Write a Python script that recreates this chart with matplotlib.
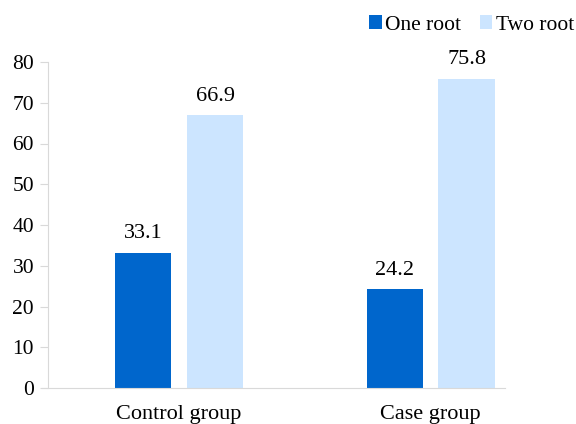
import numpy as np
import matplotlib.pyplot as plt

plt.rcParams['font.family'] = ['Liberation Serif', 'DejaVu Serif']

# Data
groups = ['Control group', 'Case group']
one_root = [33.1, 24.2]
two_root = [66.9, 75.8]

fig = plt.figure(figsize=(5.76, 4.24), dpi=100)
ax = fig.add_axes([48 / 576, 1 - 388 / 424, (505 - 48) / 576, (388 - 62) / 424])

x = np.arange(len(groups))
w = 0.223
off = 0.143
b1 = ax.bar(x - off, one_root, w, color='#0066CC', label='One root')
b2 = ax.bar(x + off, two_root, w, color='#CCE5FF', label='Two root')

for bars in (b1, b2):
    for r in bars:
        ax.text(r.get_x() + r.get_width() / 2, r.get_height() + 2.4, f'{r.get_height():.1f}',
                ha='center', va='bottom', fontsize=16)

ax.set_xlim(-0.521, 1.296)
ax.set_ylim(0, 80)
ax.set_yticks(range(0, 81, 10))
ax.set_xticks(x)
ax.set_xticklabels(groups)
ax.tick_params(axis='y', length=6, color='#d9d9d9', labelsize=15.5, pad=4)
ax.tick_params(axis='x', length=0, labelsize=16, pad=12)
for s in ['top', 'right']:
    ax.spines[s].set_visible(False)
ax.spines['left'].set_color('#d9d9d9')
ax.spines['bottom'].set_color('#d9d9d9')
ax.spines['bottom'].set_bounds(-0.545, 1.296)

fig.legend(loc='upper right', bbox_to_anchor=(1.03, 1.01), ncol=2, frameon=False, fontsize=15.5,
           handlelength=0.6, handleheight=0.6, handletextpad=0.15, columnspacing=0.85)

fig.savefig('out.png', dpi=100)
